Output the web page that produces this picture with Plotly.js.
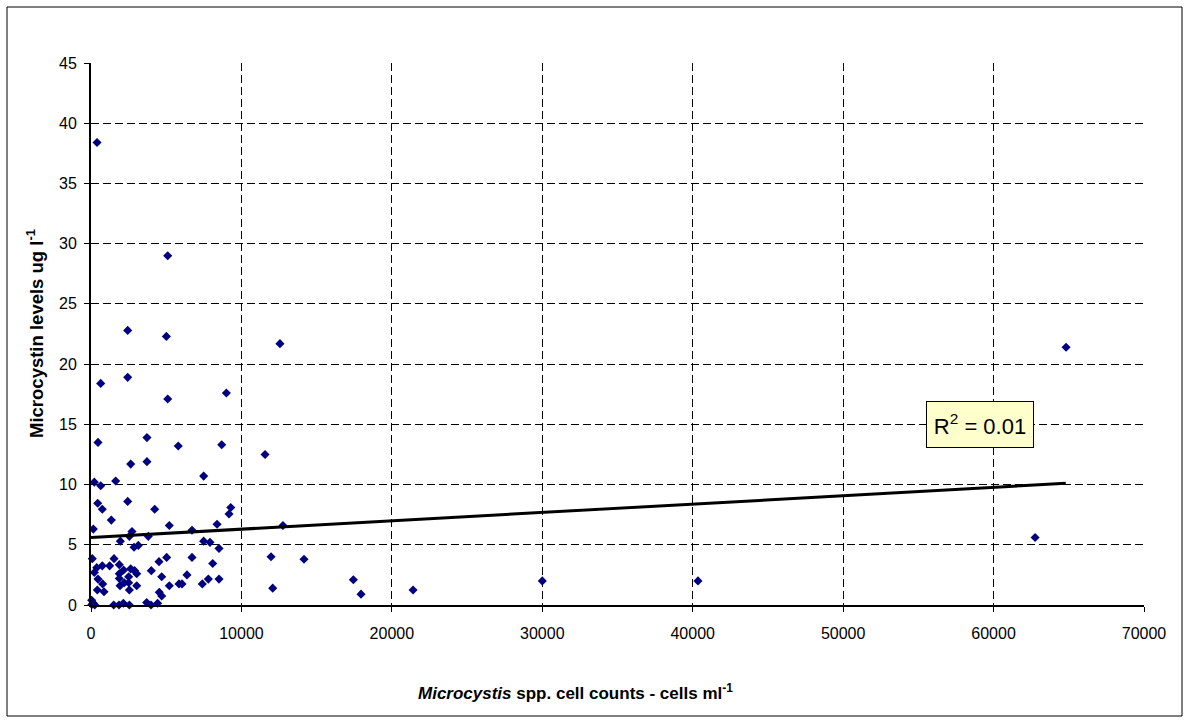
<!DOCTYPE html>
<html>
<head>
<meta charset="utf-8">
<script src="https://cdn.plot.ly/plotly-3.0.1.min.js"></script>
<style>
  html, body { margin: 0; padding: 0; background: #ffffff; }
  #chart { width: 1189px; height: 723px; }
</style>
</head>
<body>
<div id="chart"></div>
<script>
// Microcystis spp. cell counts (cells per ml)
const cellCounts = [
  400, 5100, 2440, 5010, 645, 2440, 9000, 5100, 465, 3720,
  5800, 8690, 2640, 3720, 12560, 11570, 12760, 11970, 14160, 12080,
  17440, 17950, 21410, 30000, 40350, 62760, 64820, 220, 645, 1640,
  7490, 445, 2440, 750, 4235, 9290, 9175, 1350, 5205, 8380,
  155, 2725, 6715, 2550, 3810, 1950, 7490, 7910, 2860, 3145,
  8510, 86, 1530, 4520, 5030, 6715, 8090, 380, 750, 1240,
  1880, 2170, 2640, 4010, 220, 1880, 3040, 4700, 6380, 465,
  1880, 2505, 7800, 8510, 775, 2215, 2505, 1930, 3040, 5205,
  5850, 6050, 7400, 420, 865, 2550, 4540, 4700, 45, 155,
  250, 1510, 1860, 2150, 2550, 3700, 3990, 4430, 60, 2900
];
// Microcystin levels (ug per l)
const microcystin = [
  38.4, 29.0, 22.8, 22.3, 18.4, 18.9, 17.6, 17.1, 13.5, 13.9,
  13.2, 13.3, 11.7, 11.9, 21.7, 12.5, 6.6, 4.0, 3.8, 1.4,
  2.1, 0.9, 1.25, 2.0, 2.0, 5.6, 21.4, 10.2, 9.9, 10.3,
  10.7, 8.45, 8.6, 7.95, 7.95, 8.1, 7.55, 7.05, 6.6, 6.7,
  6.3, 6.1, 6.2, 5.7, 5.7, 5.3, 5.3, 5.2, 4.8, 4.95,
  4.7, 3.85, 3.85, 3.6, 3.95, 3.95, 3.45, 3.1, 3.25, 3.25,
  3.35, 2.9, 3.0, 2.85, 2.7, 2.6, 2.6, 2.35, 2.5, 2.15,
  2.2, 2.35, 2.15, 2.15, 1.75, 1.85, 1.85, 1.6, 1.6, 1.6,
  1.75, 1.75, 1.75, 1.25, 1.1, 1.25, 1.05, 0.75, 0.4, 0.15,
  0.0, 0.0, 0.0, 0.15, 0.0, 0.2, 0.0, 0.15, 0.05, 2.85
];
// Linear trendline (start and end)
const trendX = [0, 64800];
const trendY = [5.6, 10.1];
const rSquaredLabel = 'R<sup>2</sup> = 0.01';
const xTickValues = [0, 10000, 20000, 30000, 40000, 50000, 60000, 70000];
const yTickValues = [0, 5, 10, 15, 20, 25, 30, 35, 40, 45];

const FONT = 'Liberation Sans, Arial, sans-serif';

const traces = [
  {
    type: 'scatter', mode: 'markers',
    x: cellCounts, y: microcystin,
    marker: { symbol: 'diamond', size: 7, color: '#000080' },
    cliponaxis: false, showlegend: false, hoverinfo: 'x+y'
  },
  {
    type: 'scatter', mode: 'lines',
    x: trendX, y: trendY,
    line: { color: '#000000', width: 3 },
    showlegend: false, hoverinfo: 'skip'
  }
];

const layout = {
  width: 1189, height: 723,
  margin: { l: 91, r: 45, t: 63, b: 118 },
  paper_bgcolor: '#ffffff', plot_bgcolor: '#ffffff',
  font: { family: FONT, size: 16, color: '#000000' },
  showlegend: false,
  xaxis: {
    range: [0, 70000], tickvals: xTickValues, ticktext: xTickValues.map(String),
    showgrid: true, gridcolor: '#000000', gridwidth: 1, griddash: '8px,4px',
    zeroline: false, showline: true, linecolor: '#000000', linewidth: 2,
    ticks: 'outside', ticklen: 5, tickcolor: '#000000', tickwidth: 1,
    tickfont: { family: FONT, size: 16, color: '#000000' }, ticklabelstandoff: 8
  },
  yaxis: {
    range: [0, 45], tickvals: yTickValues, ticktext: yTickValues.map(String),
    showgrid: true, gridcolor: '#000000', gridwidth: 1, griddash: '8px,4px',
    zeroline: false, showline: true, linecolor: '#000000', linewidth: 2,
    ticks: 'outside', ticklen: 5, tickcolor: '#000000', tickwidth: 1,
    tickfont: { family: FONT, size: 16, color: '#000000' }, ticklabelstandoff: 4
  },
  shapes: [
    { type: 'rect', xref: 'paper', yref: 'paper', layer: 'below',
      x0: (7 - 91) / 1053, x1: (1182 - 91) / 1053,
      y0: (605 - 716) / 542, y1: (605 - 7) / 542,
      line: { color: '#000000', width: 1 }, fillcolor: 'rgba(0,0,0,0)' }
  ],
  annotations: [
    { xref: 'paper', yref: 'paper', x: (575 - 91) / 1053, y: (605 - 692) / 542,
      xanchor: 'center', yanchor: 'middle', showarrow: false,
      text: '<b><i>Microcystis</i> spp. cell counts - cells ml<sup>-1</sup></b>',
      font: { family: FONT, size: 17, color: '#000000' } },
    { xref: 'paper', yref: 'paper', x: (35 - 91) / 1053, y: 0.5,
      xanchor: 'center', yanchor: 'middle', showarrow: false, textangle: -90,
      text: '<b>Microcystin levels ug l<sup>-1</sup></b>',
      font: { family: FONT, size: 18.5, color: '#000000' } },
    { xref: 'x', yref: 'y', x: 59100, y: 14.95,
      xanchor: 'center', yanchor: 'middle', showarrow: false,
      text: rSquaredLabel, width: 100, height: 39, borderpad: 3,
      bgcolor: '#ffffcc', bordercolor: '#000000', borderwidth: 1,
      font: { family: FONT, size: 22, color: '#000000' } }
  ]
};

Plotly.newPlot('chart', traces, layout, { displayModeBar: false, staticPlot: true });
</script>
</body>
</html>
